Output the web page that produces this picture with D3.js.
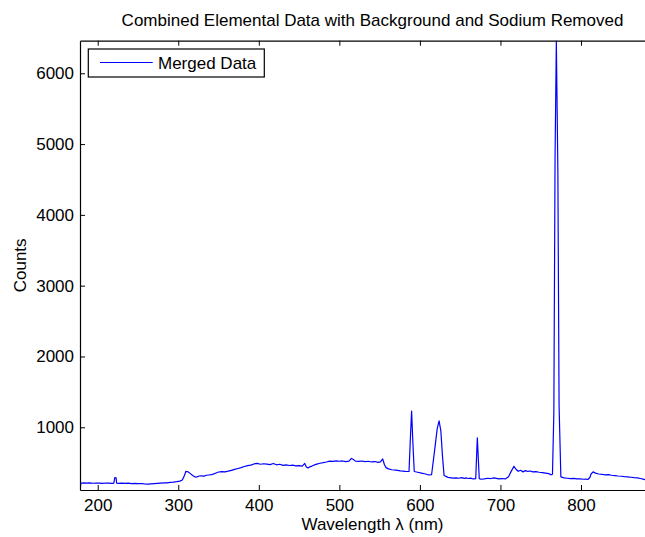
<!DOCTYPE html>
<html><head><meta charset="utf-8">
<script src="https://cdn.jsdelivr.net/npm/d3@7"></script>
<style>
body{margin:0;background:#fff;}
text{font-family:"Liberation Sans",Arial,Helvetica,sans-serif;fill:#000;}
</style></head>
<body><svg id="chart" width="645" height="537"></svg>
<script>
const wavelength = [178,179,180,183,186,190,194,198,202,206,210,214,218,220,221.2,222.8,223.5,226,230,234,238,242,246,250,254,258,262,266,270,274,278,282,286,290,294,298,302,305,307,309.5,312,315,318,321,323,326,329,332,335,338,341,344,347,350,354,358,362,366,370,374,378,382,386,390,394,398,402,406,410,414,418,422,426,430,434,438,442,446,450,454,457,459,461,463,466,469,472,476,480,484,488,492,496,500,504,508,512,515,517,520,524,528,532,536,540,544,548,551,553.8,556,558,561,565,570,576,582,586.5,588,589.7,591.2,593,597,602,607,611,614.5,618,621.5,623.8,626,628,630,635,641,645,648,652,655,658,660,663,666,669.3,671.3,673.7,676,680,684,688,692,695,698,702,706,710,713,716.8,719,722,725,728,731,734,737,740,744,748,752,756,760,762,763.8,764.6,766.3,767.8,769.4,771.3,772.8,775,779,783,787,791,795,799,803,806,808.5,811,812.5,815,818,822,826,830,834,838,842,846,850,854,858,862,866,870,874,877,880,890,900];
const counts = [120,205,212,215,210,214,209,213,211,208,213,210,207,212,290,285,210,207,211,208,210,205,208,203,206,200,198,201,204,208,212,216,214,222,226,232,240,255,300,378,372,345,318,296,300,312,314,310,322,326,330,342,355,368,374,370,380,392,405,418,430,446,458,466,482,490,478,485,480,472,488,470,478,462,470,460,466,455,458,452,490,440,425,440,452,468,480,492,500,510,522,518,526,520,524,516,522,560,548,522,518,524,515,520,510,516,505,512,552,470,430,412,400,395,385,378,375,800,1230,800,375,365,352,340,326,330,650,980,1090,950,600,320,292,282,286,280,288,278,284,276,282,270,275,850,275,266,272,280,276,284,278,272,276,270,300,370,450,410,378,392,370,388,376,382,370,374,365,360,352,345,332,330,340,1200,4800,6460,4600,1300,300,285,280,274,278,270,272,266,268,262,290,340,370,352,340,336,328,330,322,318,312,308,302,300,294,288,284,276,268,258,248,232,218,200,190];
const xTicks = [200,300,400,500,600,700,800,900];
const xTickLabels = ["200","300","400","500","600","700","800",""];
const yTicks = [1000,2000,3000,4000,5000,6000];
const titleText = "Combined Elemental Data with Background and Sodium Removed";
const xLabel = "Wavelength \u03bb (nm)";
const yLabel = "Counts";
const seriesName = "Merged Data";

const svg = d3.select("#chart");
const L = 80, R = 665, T = 40.7, B = 490;
const FS = 17;
const x = d3.scaleLinear().domain([178, 904.3]).range([L, R]);
const y = d3.scaleLinear().domain([114, 6460]).range([B, T]);

svg.append("clipPath").attr("id","clip").append("rect")
  .attr("x",L).attr("y",T).attr("width",R-L).attr("height",B-T);

const data = wavelength.map((w,i)=>[w,counts[i]]);
const line = d3.line().x(d=>x(d[0])).y(d=>y(d[1]));
svg.append("path").datum(data).attr("clip-path","url(#clip)")
  .attr("d",line).attr("fill","none").attr("stroke","#0000ff").attr("stroke-width",1.2)
  .attr("stroke-linejoin","round");

// axes
const tk = 5;
const axB = svg.append("g").attr("transform",`translate(0,${B})`)
  .call(d3.axisBottom(x).tickValues(xTicks).tickSizeInner(-tk).tickSizeOuter(0).tickPadding(9)
    .tickFormat((d,i)=>xTickLabels[i]));
const axT = svg.append("g").attr("transform",`translate(0,${T})`)
  .call(d3.axisTop(x).tickValues(xTicks).tickSizeInner(-tk).tickSizeOuter(0).tickFormat(""));
const axL = svg.append("g").attr("transform",`translate(${L},0)`)
  .call(d3.axisLeft(y).tickValues(yTicks).tickSizeInner(-tk).tickSizeOuter(0).tickPadding(6).tickFormat(d3.format("d")));
const axR = svg.append("g").attr("transform",`translate(${R},0)`)
  .call(d3.axisRight(y).tickValues(yTicks).tickSizeInner(-tk).tickSizeOuter(0).tickFormat(""));
[axB,axT,axL,axR].forEach(g=>{
  g.select(".domain").attr("stroke","#000").attr("stroke-width",1.2);
  g.selectAll(".tick line").attr("stroke","#000").attr("stroke-width",1);
  g.selectAll(".tick text").style("font-size",FS+"px").attr("fill","#000");
});

svg.append("text").attr("x",(L+R)/2).attr("y",26).attr("text-anchor","middle")
  .style("font-size",FS+"px").text(titleText);
svg.append("text").attr("x",(L+R)/2).attr("y",530).attr("text-anchor","middle")
  .style("font-size",FS+"px").text(xLabel);
svg.append("text").attr("transform",`translate(26,${(T+B)/2}) rotate(-90)`).attr("text-anchor","middle")
  .style("font-size",FS+"px").text(yLabel);

// legend
const lg = svg.append("g");
lg.append("rect").attr("x",88.3).attr("y",49).attr("width",176).attr("height",28)
  .attr("fill","#fff").attr("stroke","#000").attr("stroke-width",1.2);
lg.append("line").attr("x1",100).attr("x2",152.7).attr("y1",62.5).attr("y2",62.5)
  .attr("stroke","#0000ff").attr("stroke-width",1.2);
lg.append("text").attr("x",158).attr("y",68.5).style("font-size",FS+"px").text(seriesName);
</script></body></html>
